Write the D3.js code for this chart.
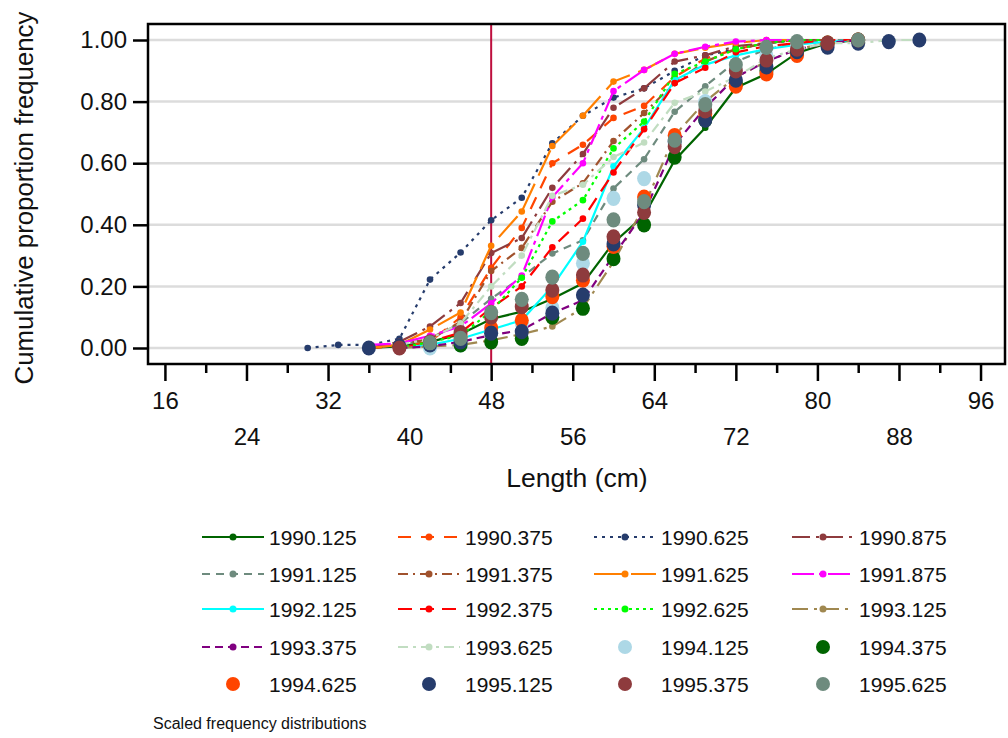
<!DOCTYPE html>
<html>
<head>
<meta charset="utf-8">
<script src="https://cdn.jsdelivr.net/npm/d3@7"></script>
<style>
  body { margin: 0; background: #fff; }
  svg { display: block; }
  text { font-family: "Liberation Sans", Arial, Helvetica, sans-serif; fill: #111; }
</style>
</head>
<body>
<svg id="chart" width="1008" height="738"></svg>
<script>
// Length classes (cm) at which cumulative proportions were computed
const lengthBins = [30, 33, 36, 39, 42, 45, 48, 51, 54, 57, 60, 63, 66, 69, 72, 75, 78, 81, 84, 87, 90];

// Axis ticks
const yTicks = [0, 0.2, 0.4, 0.6, 0.8, 1.0];
const xMajorTicks = [16, 24, 32, 40, 48, 56, 64, 72, 80, 88, 96];
const xMinorTicks = [20, 28, 36, 44, 52, 60, 68, 76, 84, 92];
const referenceLength = 48;

// Sampling periods (year.fraction)
const seriesNames = [
  "1990.125", "1990.375", "1990.625", "1990.875",
  "1991.125", "1991.375", "1991.625", "1991.875",
  "1992.125", "1992.375", "1992.625", "1993.125",
  "1993.375", "1993.625", "1994.125", "1994.375",
  "1994.625", "1995.125", "1995.375", "1995.625"
];

// Cumulative proportion frequency per period, aligned with lengthBins (null = no data)
const p1990_125 = [null, null, 0, 0.005, 0.02, 0.045, 0.094, 0.118, 0.16, 0.21, 0.342, 0.43, 0.61, 0.715, 0.845, 0.89, 0.958, 0.99, 1.0, null, null];
const p1990_375 = [null, null, 0, 0.005, 0.02, 0.10, 0.26, 0.39, 0.60, 0.66, 0.747, 0.786, 0.88, 0.94, 0.97, 0.99, 1.0, 1.0, null, null, null];
const p1990_625 = [0, 0.01, 0.01, 0.03, 0.222, 0.31, 0.415, 0.488, 0.665, 0.754, 0.813, 0.843, 0.90, 0.95, 0.97, 0.99, 1.0, 1.0, null, null, null];
const p1990_875 = [null, null, 0, 0.02, 0.07, 0.146, 0.308, 0.357, 0.52, 0.63, 0.78, 0.843, 0.93, 0.95, 0.98, 0.99, 1.0, 1.0, null, null, null];
const p1991_125 = [null, null, 0, 0.01, 0.03, 0.08, 0.16, 0.23, 0.307, 0.35, 0.518, 0.613, 0.767, 0.85, 0.93, 0.97, 0.99, 1.0, 1.0, null, null];
const p1991_375 = [null, null, 0, 0.01, 0.03, 0.085, 0.25, 0.325, 0.475, 0.535, 0.672, 0.763, 0.86, 0.93, 0.97, 0.99, 1.0, 1.0, null, null, null];
const p1991_625 = [null, null, 0, 0.01, 0.06, 0.115, 0.332, 0.443, 0.656, 0.754, 0.865, 0.903, 0.955, 0.975, 0.99, 1.0, 1.0, null, null, null, null];
const p1991_875 = [null, null, 0.01, 0.015, 0.04, 0.07, 0.145, 0.235, 0.49, 0.60, 0.834, 0.903, 0.955, 0.978, 0.995, 1.0, 1.0, null, null, null, null];
const p1992_125 = [null, null, null, 0, 0.01, 0.03, 0.06, 0.09, 0.20, 0.345, 0.59, 0.714, 0.87, 0.92, 0.95, 0.97, 0.985, 0.995, 1.0, null, null];
const p1992_375 = [null, null, null, 0, 0.02, 0.05, 0.13, 0.20, 0.327, 0.42, 0.57, 0.71, 0.86, 0.91, 0.96, 0.98, 0.99, 1.0, 1.0, null, null];
const p1992_625 = [null, null, null, 0, 0.02, 0.04, 0.12, 0.228, 0.411, 0.48, 0.648, 0.735, 0.89, 0.93, 0.97, 0.99, 1.0, 1.0, null, null, null];
const p1993_125 = [null, null, null, 0, 0.005, 0.01, 0.025, 0.045, 0.07, 0.13, 0.28, 0.46, 0.69, 0.80, 0.88, 0.93, 0.97, 0.99, 1.0, null, null];
const p1993_375 = [null, null, null, 0, 0.005, 0.02, 0.042, 0.058, 0.113, 0.155, 0.30, 0.44, 0.66, 0.78, 0.88, 0.93, 0.97, 0.99, 1.0, null, null];
const p1993_625 = [null, null, null, 0.01, 0.03, 0.08, 0.20, 0.30, 0.494, 0.53, 0.62, 0.667, 0.796, 0.833, 0.88, 0.94, 0.97, 0.99, 0.99, 1.0, 1.0];
const p1994_125 = [null, null, null, null, 0, 0.01, 0.05, 0.08, 0.13, 0.275, 0.486, 0.55, 0.67, 0.80, 0.90, 0.95, 0.98, null, null, null, null];
const p1994_375 = [null, null, null, null, null, 0.01, 0.02, 0.031, 0.10, 0.129, 0.29, 0.40, 0.62, 0.74, 0.86, 0.90, 0.96, 0.99, 1.0, null, null];
const p1994_625 = [null, null, null, null, null, 0.037, 0.065, 0.09, 0.167, 0.22, 0.33, 0.49, 0.69, 0.76, 0.85, 0.89, 0.95, 0.99, 1.0, null, null];
const p1995_125 = [null, null, 0, 0.005, 0.01, 0.02, 0.048, 0.053, 0.113, 0.172, 0.338, 0.464, 0.67, 0.74, 0.87, 0.913, 0.962, 0.977, 0.99, 0.995, 1.0];
const p1995_375 = [null, null, null, 0, 0.02, 0.05, 0.10, 0.134, 0.188, 0.237, 0.361, 0.44, 0.654, 0.77, 0.90, 0.935, 0.97, 0.99, 1.0, null, null];
const p1995_625 = [null, null, null, null, 0.017, 0.031, 0.115, 0.158, 0.23, 0.307, 0.416, 0.475, 0.675, 0.79, 0.92, 0.976, 0.995, null, 1.0, null, null];

const seriesValues = [
  p1990_125, p1990_375, p1990_625, p1990_875,
  p1991_125, p1991_375, p1991_625, p1991_875,
  p1992_125, p1992_375, p1992_625, p1993_125,
  p1993_375, p1993_625, p1994_125, p1994_375,
  p1994_625, p1995_125, p1995_375, p1995_625
];

// Drawing style for each period
const seriesColors = [
  "#006400", "#FF4500", "#263C6C", "#8E3B3D",
  "#6E8B7E", "#A0522D", "#FF7F00", "#FF00FF",
  "#00FFFF", "#FF0000", "#00FF00", "#A08850",
  "#800080", "#C1DDC1", "#ADD8E6", "#006400",
  "#FF4500", "#263C6C", "#8E3B3D", "#6E8B7E"
];
const seriesDashes = [
  null, "13,10", "3,5", "18,6,3,6",
  "8,6", "10,5,2,5", "28,9", "22,5,4,5",
  null, "14,8", "3,4", "16,6,3,6",
  "8,5", "10,5,3,5", null, null,
  null, null, null, null
];
const seriesKind = [
  "line", "line", "line", "line",
  "line", "line", "line", "line",
  "line", "line", "line", "line",
  "line", "line", "dot", "dot",
  "dot", "dot", "dot", "dot"
];

const svg = d3.select("#chart");
const frame = { left: 148, right: 1005, top: 24, bottom: 364 };

const x = d3.scaleLinear().domain([14.34, 98.4]).range([frame.left, frame.right]);
const y = d3.scaleLinear().domain([0, 1]).range([348, 40]);

// Horizontal grid
svg.append("g")
  .selectAll("line")
  .data(yTicks)
  .join("line")
  .attr("x1", frame.left).attr("x2", frame.right)
  .attr("y1", d => y(d)).attr("y2", d => y(d))
  .attr("stroke", "#DCDCDC").attr("stroke-width", 2.5);

// Y axis
const yAxis = svg.append("g")
  .attr("transform", `translate(${frame.left},0)`)
  .call(d3.axisLeft(y).tickValues(yTicks).tickFormat(d3.format(".2f")).tickSize(15).tickPadding(6));
yAxis.select(".domain").remove();
yAxis.selectAll(".tick line").attr("stroke", "#000").attr("stroke-width", 2.5);
yAxis.selectAll(".tick text").attr("font-size", 24).attr("fill", "#111")
  .attr("font-family", "\"Liberation Sans\", Arial, sans-serif");

// X axis: major ticks every 8 cm with labels on two staggered rows, minor ticks between
const xAxis = svg.append("g")
  .attr("transform", `translate(0,${frame.bottom})`)
  .call(d3.axisBottom(x).tickValues(xMajorTicks).tickSize(17).tickFormat(d3.format("d")));
xAxis.select(".domain").remove();
xAxis.selectAll(".tick line").attr("stroke", "#000").attr("stroke-width", 2.5);
xAxis.selectAll(".tick text")
  .attr("font-size", 24).attr("fill", "#111")
  .attr("font-family", "\"Liberation Sans\", Arial, sans-serif")
  .attr("y", (d, i) => (i % 2 === 0 ? 28 : 64))
  .attr("dy", "0.71em");
svg.append("g")
  .attr("transform", `translate(0,${frame.bottom})`)
  .call(d3.axisBottom(x).tickValues(xMinorTicks).tickSize(9).tickFormat(""))
  .call(g => g.select(".domain").remove())
  .call(g => g.selectAll(".tick line").attr("stroke", "#000").attr("stroke-width", 2.5));

// Reference length
svg.append("line")
  .attr("x1", x(referenceLength)).attr("x2", x(referenceLength))
  .attr("y1", frame.top).attr("y2", frame.bottom)
  .attr("stroke", "#BE0F3E").attr("stroke-width", 2);

// Series
const plot = svg.append("g");
const lineGen = d3.line()
  .defined(d => d.v !== null)
  .x(d => x(d.len))
  .y(d => y(d.v));

seriesNames.forEach((name, i) => {
  const pts = lengthBins.map((len, j) => ({ len, v: seriesValues[i][j] }));
  const g = plot.append("g").attr("class", "series");
  if (seriesKind[i] === "line") {
    g.append("path")
      .datum(pts)
      .attr("d", lineGen)
      .attr("fill", "none")
      .attr("stroke", seriesColors[i])
      .attr("stroke-width", 2.2)
      .attr("stroke-dasharray", seriesDashes[i]);
    g.selectAll("circle")
      .data(pts.filter(d => d.v !== null))
      .join("circle")
      .attr("cx", d => x(d.len)).attr("cy", d => y(d.v))
      .attr("r", 3.3)
      .attr("fill", seriesColors[i]);
  } else {
    g.selectAll("ellipse")
      .data(pts.filter(d => d.v !== null))
      .join("ellipse")
      .attr("cx", d => x(d.len)).attr("cy", d => y(d.v))
      .attr("rx", 7).attr("ry", 7.6)
      .attr("fill", seriesColors[i]);
  }
});

// Frame
svg.append("rect")
  .attr("x", frame.left).attr("y", frame.top)
  .attr("width", frame.right - frame.left).attr("height", frame.bottom - frame.top)
  .attr("fill", "none").attr("stroke", "#000").attr("stroke-width", 2.5);

// Axis titles
svg.append("text")
  .attr("transform", "translate(33,198) rotate(-90)")
  .attr("text-anchor", "middle")
  .attr("font-size", 25.8)
  .text("Cumulative proportion frequency");
svg.append("text")
  .attr("x", 577).attr("y", 487)
  .attr("text-anchor", "middle")
  .attr("font-size", 26.5)
  .text("Length (cm)");

// Legend: 4 columns, row-major
const legendCols = [202, 398, 594, 792];
const legendRows = [537, 574, 609, 647, 684];
const legend = svg.append("g");
seriesNames.forEach((name, i) => {
  const cx = legendCols[i % 4];
  const cy = legendRows[Math.floor(i / 4)];
  const item = legend.append("g").attr("transform", `translate(${cx},${cy})`);
  if (seriesKind[i] === "line") {
    item.append("line")
      .attr("x1", 0).attr("x2", 62).attr("y1", 0).attr("y2", 0)
      .attr("stroke", seriesColors[i]).attr("stroke-width", 2.2)
      .attr("stroke-dasharray", seriesDashes[i]);
    item.append("circle").attr("cx", 31).attr("cy", 0).attr("r", 3.5).attr("fill", seriesColors[i]);
  } else {
    item.append("ellipse").attr("cx", 31).attr("cy", 0).attr("rx", 7).attr("ry", 7).attr("fill", seriesColors[i]);
  }
  item.append("text")
    .attr("x", 67).attr("y", 0).attr("dy", "0.36em")
    .attr("font-size", 21)
    .text(name);
});

// Footnote
svg.append("text")
  .attr("x", 153).attr("y", 729)
  .attr("font-size", 16)
  .text("Scaled frequency distributions");
</script>
</body>
</html>
